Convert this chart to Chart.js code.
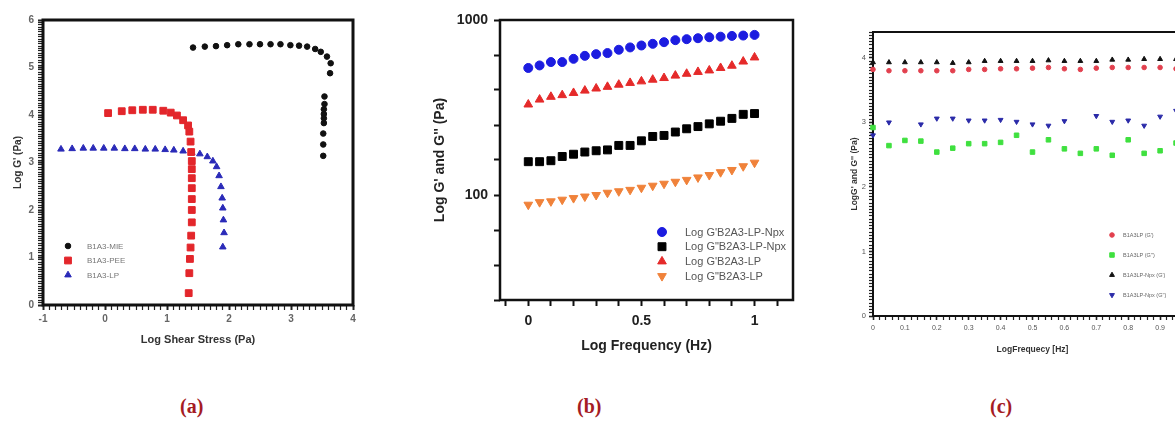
<!DOCTYPE html>
<html>
<head>
<meta charset="utf-8">
<script src="https://cdn.jsdelivr.net/npm/chart.js@4.4.1/dist/chart.umd.min.js"></script>
<style>
  html, body { margin: 0; padding: 0; background: #fff; }
  body { width: 1175px; height: 423px; overflow: hidden; position: relative; }
  .panel { position: absolute; top: 0; }
  .cap { position: absolute; top: 395px; font: bold 20px "Liberation Serif", "Times New Roman", serif; color: #a51c24; }
</style>
</head>
<body>
<div class="panel" style="left:0;width:370px;height:350px"><canvas id="chartA"></canvas></div>
<div class="panel" style="left:420px;width:380px;height:360px"><canvas id="chartB"></canvas></div>
<div class="panel" style="left:840px;width:360px;height:370px"><canvas id="chartC"></canvas></div>
<div class="cap" style="left:180px">(a)</div>
<div class="cap" style="left:577px">(b)</div>
<div class="cap" style="left:990px">(c)</div>
<script>
// ---- panel (a): amplitude sweep, Log G' vs Log shear stress ----
const mieStress = [1.42, 1.61, 1.79, 1.97, 2.15, 2.33, 2.50, 2.67, 2.83, 2.99, 3.13, 3.26, 3.39, 3.48, 3.58, 3.64, 3.63, 3.54, 3.54, 3.53, 3.53, 3.53, 3.53, 3.52, 3.52, 3.52];
const mieG = [5.42, 5.44, 5.45, 5.47, 5.49, 5.49, 5.49, 5.49, 5.49, 5.47, 5.46, 5.44, 5.39, 5.33, 5.23, 5.09, 4.88, 4.39, 4.23, 4.12, 4.02, 3.93, 3.83, 3.61, 3.38, 3.14];
const peeStress = [0.05, 0.27, 0.44, 0.61, 0.77, 0.94, 1.06, 1.16, 1.26, 1.34, 1.36, 1.38, 1.39, 1.40, 1.40, 1.40, 1.40, 1.40, 1.40, 1.40, 1.39, 1.38, 1.37, 1.36, 1.35];
const peeG = [4.04, 4.08, 4.10, 4.11, 4.11, 4.09, 4.05, 3.99, 3.89, 3.78, 3.65, 3.44, 3.22, 3.03, 2.86, 2.67, 2.46, 2.23, 2.00, 1.74, 1.46, 1.21, 0.97, 0.67, 0.25];
const lpStress = [-0.71, -0.53, -0.35, -0.19, -0.02, 0.15, 0.32, 0.48, 0.65, 0.81, 0.97, 1.11, 1.26, 1.40, 1.53, 1.65, 1.74, 1.80, 1.84, 1.87, 1.89, 1.90, 1.91, 1.92, 1.90];
const lpG = [3.28, 3.29, 3.30, 3.30, 3.30, 3.30, 3.29, 3.29, 3.28, 3.28, 3.27, 3.26, 3.24, 3.21, 3.18, 3.12, 3.03, 2.91, 2.72, 2.49, 2.25, 2.04, 1.79, 1.52, 1.22];

// ---- panel (b): frequency sweep, G' and G'' (Pa) ----
const freqB = [0, 0.05, 0.1, 0.15, 0.2, 0.25, 0.3, 0.35, 0.4, 0.45, 0.5, 0.55, 0.6, 0.65, 0.7, 0.75, 0.8, 0.85, 0.9, 0.95, 1];
const gPrimeNpx = [532, 550, 575, 575, 600, 624, 638, 647, 676, 697, 715, 731, 747, 767, 777, 787, 797, 803, 811, 815, 822];
const gDoubleNpx = [155, 155, 157, 166, 171, 176, 179, 181, 192, 192, 204, 216, 219, 229, 239, 246, 255, 264, 274, 289, 292];
const gPrimeLp = [329, 351, 364, 372, 383, 395, 406, 415, 427, 437, 446, 456, 466, 481, 493, 505, 515, 532, 548, 579, 611];
const gDoubleLp = [88, 91, 92, 94, 96, 98, 100, 103, 105, 107, 110, 113, 116, 119, 122, 126, 130, 135, 139, 146, 153];
const logTicksB = [1.4, 1.6, 1.8, 2, 2.2, 2.4, 2.6, 2.8, 3];

// ---- panel (c): frequency sweep, Log G' and G'' ----
const freqC = [0, 0.05, 0.1, 0.15, 0.2, 0.25, 0.3, 0.35, 0.4, 0.45, 0.5, 0.55, 0.6, 0.65, 0.7, 0.75, 0.8, 0.85, 0.9, 0.95];
const cPrimeLp = [3.82, 3.80, 3.80, 3.80, 3.80, 3.80, 3.82, 3.82, 3.83, 3.83, 3.84, 3.85, 3.83, 3.82, 3.84, 3.85, 3.85, 3.85, 3.85, 3.83];
const cDoubleLp = [2.92, 2.64, 2.72, 2.71, 2.54, 2.60, 2.67, 2.67, 2.69, 2.80, 2.54, 2.73, 2.59, 2.52, 2.59, 2.49, 2.73, 2.52, 2.56, 2.68];
const cPrimeNpx = [3.93, 3.93, 3.93, 3.93, 3.93, 3.92, 3.93, 3.95, 3.95, 3.95, 3.95, 3.96, 3.95, 3.95, 3.95, 3.97, 3.97, 3.98, 3.98, 3.98];
const cDoubleNpx = [2.80, 3.00, null, 2.97, 3.06, 3.06, 3.03, 3.03, 3.04, 3.01, 2.97, 2.95, 3.02, null, 3.10, 3.01, 3.03, 2.95, 3.09, 3.18];

const pts = (xs, ys) => xs.map((x, i) => ({ x: x, y: ys[i] }));
const near = (v, step) => Math.abs(v / step - Math.round(v / step)) < 1e-6;
const FONT = 'Arial, "Liberation Sans", sans-serif';

// box around the plot area
const frame = {
    id: 'frame',
    beforeDatasetsDraw(chart, args, opts) {
        const a = chart.chartArea, ctx = chart.ctx;
        ctx.save();
        ctx.strokeStyle = '#111';
        ctx.lineWidth = opts.width || 2;
        ctx.strokeRect(a.left, a.top, a.right - a.left, a.bottom - a.top);
        ctx.restore();
    }
};

// legend drawn inside the plot area
const innerLegend = {
    id: 'innerLegend',
    afterDraw(chart, args, opts) {
        const a = chart.chartArea, ctx = chart.ctx;
        ctx.save();
        ctx.font = opts.font;
        ctx.textBaseline = 'middle';
        chart.data.datasets.forEach((ds, i) => {
            const x = a.left + opts.left;
            const y = a.top + opts.top + i * opts.gap;
            ctx.fillStyle = ds.backgroundColor;
            ctx.strokeStyle = ds.borderColor;
            ctx.lineWidth = 1;
            Chart.helpers.drawPoint(ctx, {
                pointStyle: ds.pointStyle, radius: ds.pointRadius,
                rotation: ds.pointRotation || 0, borderWidth: 1
            }, x, y);
            ctx.fillStyle = opts.color;
            ctx.fillText(ds.label, a.left + opts.textLeft, y + 0.5);
        });
        ctx.restore();
    }
};

function series(label, xs, ys, color, style, radius, rotation) {
    return {
        label: label,
        data: pts(xs, ys),
        backgroundColor: color,
        borderColor: color,
        borderWidth: 1,
        pointStyle: style,
        pointRadius: radius,
        pointRotation: rotation || 0,
        showLine: false,
        clip: false
    };
}

// ---------------- (a) ----------------
new Chart(document.getElementById('chartA'), {
    type: 'scatter',
    data: {
        datasets: [
            series('B1A3-MIE', mieStress, mieG, '#111111', 'circle', 2.8),
            series('B1A3-PEE', peeStress, peeG, '#e3262b', 'rect', 4.8),
            series('B1A3-LP', lpStress, lpG, '#2a2ab8', 'triangle', 3.8)
        ]
    },
    options: {
        responsive: true,
        maintainAspectRatio: false,
        animation: false,
        layout: { padding: { left: 0, top: 20, right: 17, bottom: 0 } },
        plugins: {
            legend: { display: false },
            tooltip: { enabled: false },
            frame: { width: 3 },
            innerLegend: { left: 25, textLeft: 44, top: 226, gap: 14.5, font: '8px ' + FONT, color: '#777' }
        },
        scales: {
            x: {
                type: 'linear', min: -1, max: 4,
                afterFit: s => { s.height = 45; },
                border: { display: false },
                grid: { drawOnChartArea: false, tickLength: 5, tickColor: '#222',
                        tickWidth: c => (c.tick && near(c.tick.value, 1)) ? 2 : 1.2 },
                ticks: { stepSize: 0.1, autoSkip: false, includeBounds: false, maxRotation: 0, padding: 3,
                         color: '#666', font: { family: FONT, size: 10, weight: 'bold' },
                         callback: v => near(v, 1) ? String(Math.round(v)) : '' },
                title: { display: true, text: 'Log Shear Stress (Pa)', color: '#333',
                         font: { family: FONT, size: 11, weight: 'bold' }, padding: { top: 0, bottom: 3 } }
            },
            y: {
                type: 'linear', min: 0, max: 6,
                afterFit: s => { s.width = 43; },
                border: { display: false },
                grid: { drawOnChartArea: false, tickLength: 5, tickColor: '#222',
                        tickWidth: c => (c.tick && near(c.tick.value, 1)) ? 2 : 1.2 },
                ticks: { stepSize: 0.05, autoSkip: false, includeBounds: false, padding: 4,
                         color: '#666', font: { family: FONT, size: 10, weight: 'bold' },
                         callback: v => near(v, 1) ? String(Math.round(v)) : '' },
                title: { display: true, text: "Log G' (Pa)", color: '#333',
                         font: { family: FONT, size: 10, weight: 'bold' }, padding: { top: 12, bottom: 0 } }
            }
        }
    },
    plugins: [frame, innerLegend]
});

// ---------------- (b) ----------------
new Chart(document.getElementById('chartB'), {
    type: 'scatter',
    data: {
        datasets: [
            series("Log G'B2A3-LP-Npx", freqB, gPrimeNpx, '#1c1ce0', 'circle', 4.5),
            series('Log G"B2A3-LP-Npx', freqB, gDoubleNpx, '#000000', 'rect', 5.6),
            series("Log G'B2A3-LP", freqB, gPrimeLp, '#e52a2a', 'triangle', 5),
            series('Log G"B2A3-LP', freqB, gDoubleLp, '#f0823a', 'triangle', 5, 180)
        ]
    },
    options: {
        responsive: true,
        maintainAspectRatio: false,
        animation: false,
        layout: { padding: { left: 0, top: 20, right: 7, bottom: 0 } },
        plugins: {
            legend: { display: false },
            tooltip: { enabled: false },
            frame: { width: 2.5 },
            innerLegend: { left: 162, textLeft: 185, top: 212, gap: 14.7, font: '11px ' + FONT, color: '#555' }
        },
        scales: {
            x: {
                type: 'linear', min: -0.125, max: 1.17,
                afterFit: s => { s.height = 60; },
                border: { display: false },
                grid: { drawOnChartArea: false, tickLength: 6, tickColor: '#111', tickWidth: 2 },
                ticks: { stepSize: 0.1, autoSkip: false, includeBounds: false, maxRotation: 0, padding: 7,
                         color: '#222', font: { family: FONT, size: 14, weight: 'bold' },
                         callback: v => near(v, 0.5) ? String(Math.round(v * 10) / 10) : '' },
                title: { display: true, text: 'Log Frequency (Hz)', color: '#222',
                         font: { family: FONT, size: 14, weight: 'bold' }, padding: { top: 0, bottom: 5 } }
            },
            y: {
                type: 'logarithmic', min: Math.pow(10, 1.4), max: 1000,
                afterBuildTicks: s => { s.ticks = logTicksB.map(e => ({ value: Math.pow(10, e) })); },
                afterFit: s => { s.width = 80; },
                border: { display: false },
                grid: { drawOnChartArea: false, tickLength: 6, tickColor: '#111', tickWidth: 2 },
                ticks: { autoSkip: false, padding: 6,
                         color: '#222', font: { family: FONT, size: 14, weight: 'bold' },
                         callback: v => (v === 100 || v === 1000) ? String(v) : '' },
                title: { display: true, text: "Log G' and G'' (Pa)", color: '#222',
                         font: { family: FONT, size: 14, weight: 'bold' }, padding: { top: 12, bottom: 0 } }
            }
        }
    },
    plugins: [frame, innerLegend]
});

// ---------------- (c) ----------------
new Chart(document.getElementById('chartC'), {
    type: 'scatter',
    data: {
        datasets: [
            series("B1A3LP (G')", freqC, cPrimeLp, '#e2404e', 'circle', 2.3),
            series("B1A3LP (G'')", freqC, cDoubleLp, '#3fe03f', 'rect', 3.2),
            series("B1A3LP-Npx (G')", freqC, cPrimeNpx, '#111111', 'triangle', 2.8),
            series("B1A3LP-Npx (G'')", freqC, cDoubleNpx, '#2a2aa8', 'triangle', 2.8, 180)
        ]
    },
    options: {
        responsive: true,
        maintainAspectRatio: false,
        animation: false,
        layout: { padding: { left: 0, top: 32, right: 8, bottom: 0 } },
        plugins: {
            legend: { display: false },
            tooltip: { enabled: false },
            frame: { width: 2 },
            innerLegend: { left: 239, textLeft: 250, top: 203, gap: 20, font: '5.5px ' + FONT, color: '#666' }
        },
        scales: {
            x: {
                type: 'linear', min: 0, max: 1,
                afterFit: s => { s.height = 54; },
                border: { display: false },
                grid: { drawOnChartArea: false, tickLength: 4, tickColor: '#222',
                        tickWidth: c => (c.tick && near(c.tick.value, 0.1)) ? 1.6 : 1.2 },
                ticks: { stepSize: 0.02, autoSkip: false, includeBounds: false, maxRotation: 0, padding: 4,
                         color: '#555', font: { family: FONT, size: 7 },
                         callback: v => near(v, 0.1) ? (v === 0 ? '0' : (Math.round(v * 10) / 10).toString()) : '' },
                title: { display: true, text: 'LogFrequecy [Hz]', color: '#333',
                         font: { family: FONT, size: 8.5, weight: 'bold' }, padding: { top: 0, bottom: 15 } }
            },
            y: {
                type: 'linear', min: 0, max: 4.4,
                afterFit: s => { s.width = 33; },
                border: { display: false },
                grid: { drawOnChartArea: false, tickLength: 4, tickColor: '#222',
                        tickWidth: c => (c.tick && near(c.tick.value, 1)) ? 1.6 : 1.2 },
                ticks: { stepSize: 0.05, autoSkip: false, includeBounds: false, padding: 3,
                         color: '#555', font: { family: FONT, size: 7.5 },
                         callback: v => near(v, 1) ? String(Math.round(v)) : '' },
                title: { display: true, text: "LogG' and G'' (Pa)", color: '#333',
                         font: { family: FONT, size: 8.5, weight: 'bold' }, padding: { top: 10, bottom: 0 } }
            }
        }
    },
    plugins: [frame, innerLegend]
});
</script>
</body>
</html>
